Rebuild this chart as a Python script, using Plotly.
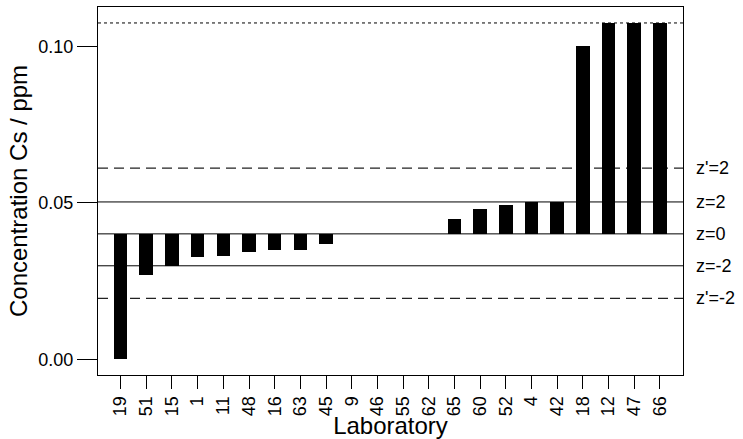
import plotly.graph_objects as go

labs = ["19", "51", "15", "1", "11", "48", "16", "63", "45", "9", "46",
        "55", "62", "65", "60", "52", "4", "42", "18", "12", "47", "66"]
conc = [0.0000, 0.0271, 0.0298, 0.0327, 0.0329, 0.0342, 0.0348, 0.0348, 0.0370,
        None, None, None, None,
        0.0450, 0.0482, 0.0492, 0.0504, 0.0504, 0.1000, 0.1075, 0.1075, 0.1075]

center = 0.0401
z_lines = [0.0503, 0.0299]          # z=2, z=-2
zp_lines = [0.0611, 0.0195]         # z'=2, z'=-2
cap = 0.1075
ref_labels = ["z'=2", "z=2", "z=0", "z=-2", "z'=-2"]
ref_values = [zp_lines[0], z_lines[0], center, z_lines[1], zp_lines[1]]

FONT = "Liberation Sans, Arial, sans-serif"

fig = go.Figure()
fig.add_trace(go.Bar(
    x=list(range(len(labs))),
    y=[None if v is None else v - center for v in conc],
    base=center,
    width=0.53,
    marker=dict(color="black", line=dict(width=0)),
    showlegend=False,
))

x0, x1 = -0.88, len(labs) - 1 + 0.9
for v in z_lines + [center]:
    fig.add_shape(type="line", xref="x", yref="y", x0=x0, x1=x1, y0=v, y1=v,
                  line=dict(color="black", width=1), layer="below")
for v in zp_lines:
    fig.add_shape(type="line", xref="x", yref="y", x0=x0, x1=x1, y0=v, y1=v,
                  line=dict(color="#222", width=1.2, dash="10px,6px"), layer="below")
fig.add_shape(type="line", xref="x", yref="y", x0=x0, x1=x1, y0=cap, y1=cap,
              line=dict(color="black", width=1, dash="3px,3px"), layer="below")

for t, v in zip(ref_labels, ref_values):
    fig.add_annotation(x=1, xref="paper", y=v, yref="y", text=t, showarrow=False,
                       xanchor="left", yanchor="middle", xshift=11,
                       font=dict(family=FONT, size=18, color="black"))

fig.update_layout(
    width=743, height=439,
    margin=dict(l=98, r=60, t=6, b=63),
    plot_bgcolor="white", paper_bgcolor="white",
    font=dict(family=FONT, color="black"),
    bargap=0,
)
fig.update_xaxes(
    range=[x0, x1],
    tickmode="array", tickvals=list(range(len(labs))), ticktext=labs,
    tickangle=-90, ticks="outside", ticklen=13, tickwidth=1, tickcolor="black",
    tickfont=dict(size=18, family=FONT),
    showline=True, linecolor="black", linewidth=1, mirror=True,
    showgrid=False, zeroline=False,
    title=dict(text="Laboratory", font=dict(size=24, family=FONT), standoff=0),
)
fig.update_yaxes(
    range=[-0.0050, 0.1126],
    tickmode="array", tickvals=[0.0, 0.05, 0.10], ticktext=["0.00", "0.05", "0.10"],
    ticks="outside", ticklen=20, tickwidth=1, tickcolor="black",
    tickfont=dict(size=18, family=FONT),
    showline=True, linecolor="black", linewidth=1, mirror=True,
    showgrid=False, zeroline=False,
    title=dict(text="Concentration Cs / ppm", font=dict(size=24, family=FONT), standoff=3),
)

fig.write_html("out.html")
